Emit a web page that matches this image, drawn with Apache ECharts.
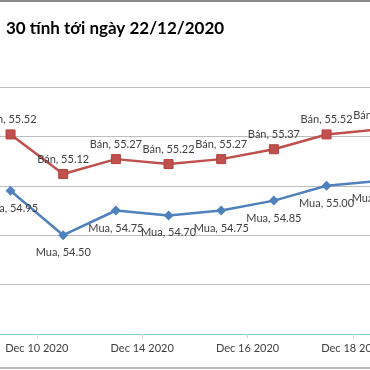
<!DOCTYPE html>
<html>
<head>
<meta charset="utf-8">
<script src="https://cdn.jsdelivr.net/npm/echarts@6/dist/echarts.min.js"></script>
<style>html,body{margin:0;padding:0;background:#fff}#c{width:370px;height:370px}</style>
</head>
<body>
<div id="c"></div>
<script>
const titleText = '30 tính tới ngày 22/12/2020';
const categories = ['Dec 9 2020','Dec 10 2020','Dec 11 2020','Dec 14 2020','Dec 15 2020','Dec 16 2020','Dec 17 2020','Dec 18 2020'];
const banName = 'Bán';
const banValues = [55.52, 55.12, 55.27, 55.22, 55.27, 55.37, 55.52, 55.57];
const muaName = 'Mua';
const muaValues = [54.95, 54.50, 54.75, 54.70, 54.75, 54.85, 55.00, 55.05];
const yMin = 53.5, yMax = 56, yStep = 0.5;

const band = 52.67;
const chart = echarts.init(document.getElementById('c'), null, {renderer: 'canvas'});
const labelFont = {fontFamily: 'Lato', fontSize: 11, color: '#404040'};
const fmt = p => p.seriesName + ', ' + Number(p.value).toFixed(2);
chart.setOption({
  animation: false,
  backgroundColor: '#fff',
  title: {text: titleText, left: 1, top: 15,
    textStyle: {fontFamily: 'Lato', fontWeight: 'bold', fontSize: 17, color: '#000'}},
  graphic: [
    {type: 'rect', shape: {x: 0, y: 0, width: 370, height: 2}, style: {fill: '#8a8a8a'}},
    {type: 'rect', shape: {x: 0, y: 367, width: 370, height: 2}, style: {fill: '#b8b8b8'}}
  ],
  grid: {left: -15.8, top: 87, width: band * categories.length, height: 247,
    containLabel: false, outerBoundsMode: 'none'},
  xAxis: {
    type: 'category', data: categories, boundaryGap: true,
    axisLine: {lineStyle: {color: '#86cfc9', width: 1}},
    axisTick: {show: true, length: 4, lineStyle: {color: '#d4d4d4'}},
    axisLabel: {
      interval: (i) => i % 2 === 1,
      fontFamily: 'Lato', fontSize: 11, color: '#404040', margin: 9,
      padding: [0, band, 0, 0]
    },
    splitLine: {show: false}
  },
  yAxis: {
    type: 'value', min: yMin, max: yMax, interval: yStep,
    axisLine: {show: false}, axisTick: {show: false}, axisLabel: {show: false},
    splitLine: {lineStyle: {color: '#bdbdbd', width: 1}}
  },
  series: [
    {name: banName, type: 'line', data: banValues,
      symbol: 'rect', symbolSize: 9,
      lineStyle: {color: '#c0504d', width: 2.5},
      itemStyle: {color: '#c0504d', borderColor: '#b13f3c', borderWidth: 1},
      label: {show: true, position: 'top', distance: 4, formatter: fmt, ...labelFont}},
    {name: muaName, type: 'line', data: muaValues,
      symbol: 'diamond', symbolSize: 10,
      lineStyle: {color: '#4f81bd', width: 2.5},
      itemStyle: {color: '#4f81bd'},
      label: {show: true, position: 'bottom', distance: 7, formatter: fmt, ...labelFont}}
  ]
});
</script>
</body>
</html>
